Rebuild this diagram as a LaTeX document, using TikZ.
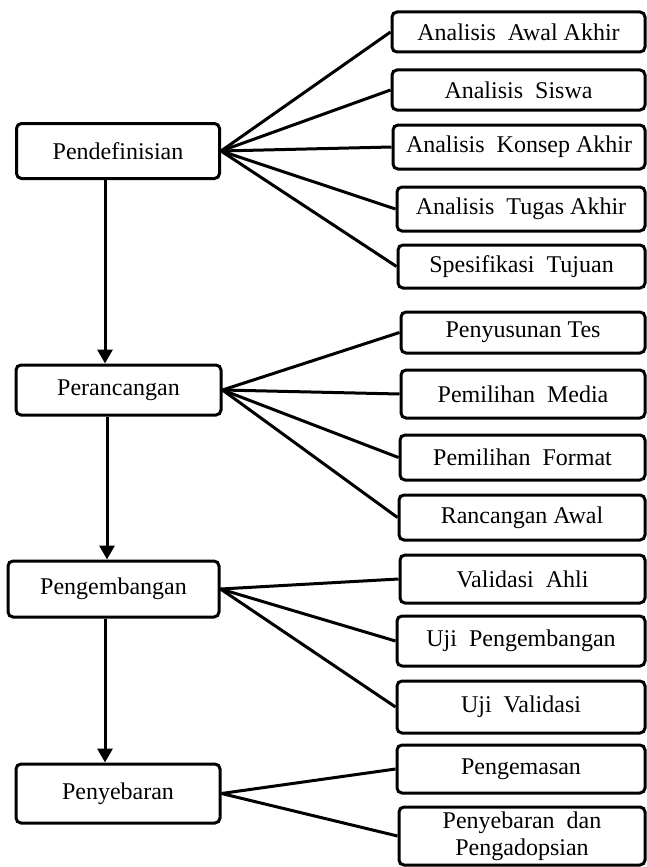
\documentclass[tikz,border=0pt]{standalone}
\usepackage{fontspec}
\setmainfont{Liberation Serif}
\usetikzlibrary{arrows.meta}
\begin{document}
\begin{tikzpicture}[x=1pt,y=-1pt,
  box/.style={draw, line width=3pt, rounded corners=5pt, inner sep=0pt, align=center,
    font=\fontsize{24}{27}\selectfont},
  link/.style={line width=3pt},
  arr/.style={line width=3pt, -{Triangle[width=15pt,length=14pt]}}]
\fill[white] (0,0) rectangle (647,867);
\useasboundingbox (0,0) rectangle (647,867);
% left boxes
\node[box, minimum width=203pt, minimum height=55pt] (L1) at (118,151) {Pendefinisian};
\node[box, minimum width=205pt, minimum height=50pt] (L2) at (118.5,390) {Perancangan};
\node[box, minimum width=211pt, minimum height=56pt] (L3) at (113.5,589) {Pengembangan};
\node[box, minimum width=204pt, minimum height=59pt] (L4) at (118,793.5) {Penyebaran};
% right boxes
\node[box, minimum width=253pt, minimum height=40pt] (R1) at (518.5,32) {Analisis\ \ Awal Akhir};
\node[box, minimum width=253pt, minimum height=40pt] (R2) at (518.5,90) {Analisis\ \ Siswa};
\node[box, minimum width=252pt, minimum height=44pt] (R3) at (519,147) {Analisis\ \ Konsep Akhir};
\node[box, minimum width=248pt, minimum height=44pt] (R4) at (521,209) {Analisis\ \ Tugas Akhir};
\node[box, minimum width=247pt, minimum height=43pt] (R5) at (521.5,266.5) {Spesifikasi\ \ Tujuan};
\node[box, minimum width=244pt, minimum height=41pt] (R6) at (523,332.5) {Penyusunan Tes};
\node[box, minimum width=244pt, minimum height=48pt] (R7) at (523,394) {Pemilihan\ \ Media};
\node[box, minimum width=245pt, minimum height=45pt] (R8) at (522.5,457.5) {Pemilihan\ \ Format};
\node[box, minimum width=246pt, minimum height=45pt] (R9) at (522,517.5) {Rancangan Awal};
\node[box, minimum width=245pt, minimum height=48pt] (R10) at (522.5,579) {Validasi\ \ Ahli};
\node[box, minimum width=248pt, minimum height=50pt] (R11) at (521,641) {Uji\ \ Pengembangan};
\node[box, minimum width=248pt, minimum height=52pt] (R12) at (521,707) {Uji\ \ Validasi};
\node[box, minimum width=248pt, minimum height=48pt] (R13) at (521,769) {Pengemasan};
\node[box, minimum width=246pt, minimum height=58pt] (R14) at (522,836) {Penyebaran\ \ dan\\Pengadopsian};
% fan-out connectors
\foreach \r in {R1,R2,R3,R4,R5} \draw[link] (L1.east) -- (\r.west);
\foreach \r in {R6,R7,R8,R9} \draw[link] (L2.east) -- (\r.west);
\foreach \r in {R10,R11,R12} \draw[link] (L3.east) -- (\r.west);
\foreach \r in {R13,R14} \draw[link] (L4.east) -- (\r.west);
% vertical arrows
\coordinate (a1) at (105,0);
\coordinate (a2) at (107,0);
\coordinate (a3) at (105,0);
\draw[arr] (L1.south -| a1) -- (L2.north -| a1);
\draw[arr] (L2.south -| a2) -- (L3.north -| a2);
\draw[arr] (L3.south -| a3) -- (L4.north -| a3);
\end{tikzpicture}
\end{document}
